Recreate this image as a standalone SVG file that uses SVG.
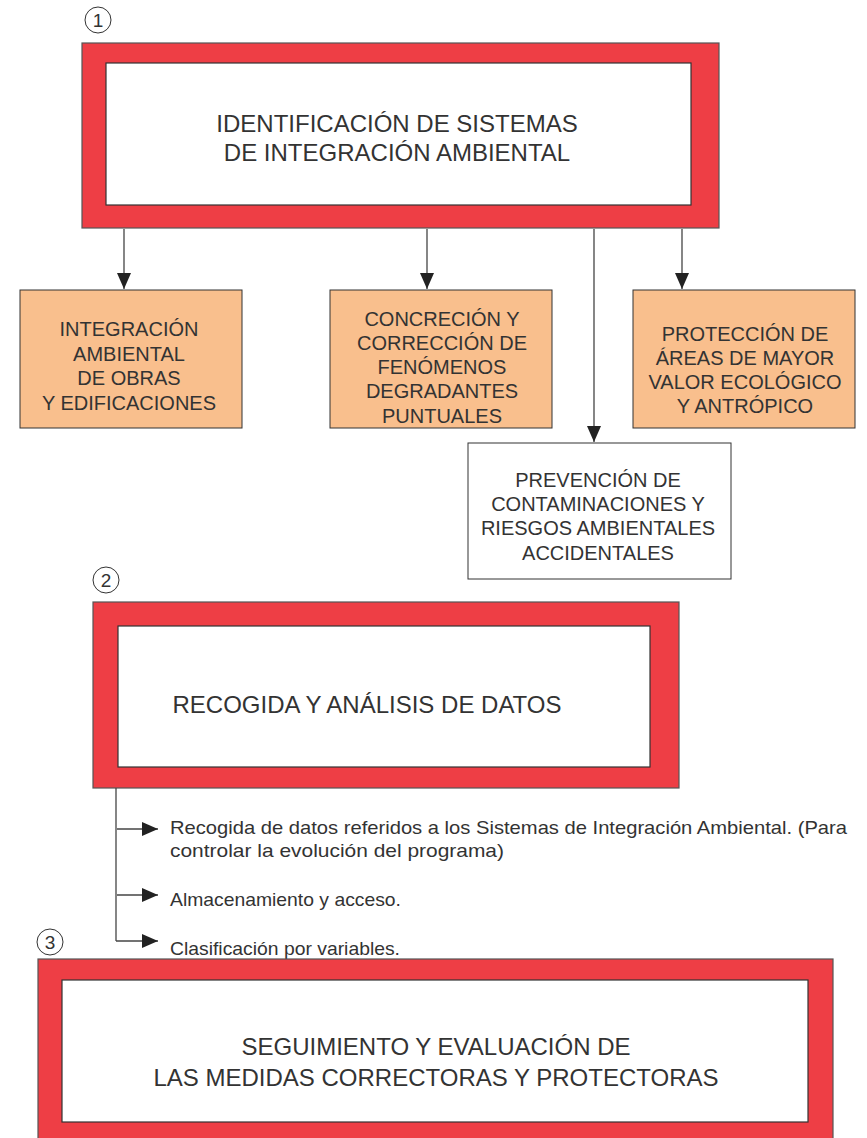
<svg xmlns="http://www.w3.org/2000/svg" width="867" height="1138" viewBox="0 0 867 1138">
<style>
.frame{fill:#EE3E45;stroke:#555;stroke-width:1.2}
.inner{fill:#fff;stroke:#333;stroke-width:1.2}
.box{fill:#F9BF8D;stroke:#333;stroke-width:1}
.wbox{fill:#fff;stroke:#333;stroke-width:1}
text{font-family:"Liberation Sans",Arial,sans-serif;fill:#333}
.t1{font-size:24px;text-anchor:middle}
.t2{font-size:20px;text-anchor:middle}
.t3{font-size:19px}
.num{font-size:19px;text-anchor:middle}
.ln{stroke:#444;stroke-width:1.3;fill:none}
.circ{fill:#fff;stroke:#333;stroke-width:1}
</style>
<defs>
<marker id="ah" viewBox="0 0 16 14" refX="16" refY="7" markerWidth="16" markerHeight="14" markerUnits="userSpaceOnUse" orient="auto">
<path d="M0,0 L16,7 L0,14 Z" fill="#222"/>
</marker>
</defs>
<rect width="867" height="1138" fill="#fff"/>
<g id="n1">
<circle class="circ" cx="98" cy="20" r="13"/>
<text class="num" x="98" y="27">1</text>
<rect class="frame" x="82" y="43" width="637" height="185"/>
<rect class="inner" x="106" y="63" width="585" height="142"/>
<text class="t1" x="397" y="132">IDENTIFICACIÓN DE SISTEMAS</text>
<text class="t1" x="397" y="161">DE INTEGRACIÓN AMBIENTAL</text>
</g>
<g id="n1a">
<rect class="box" x="20" y="290" width="222" height="138"/>
<text class="t2" x="129" y="336">INTEGRACIÓN</text>
<text class="t2" x="129" y="361">AMBIENTAL</text>
<text class="t2" x="129" y="385">DE OBRAS</text>
<text class="t2" x="129" y="410">Y EDIFICACIONES</text>
</g>
<g id="n1b">
<rect class="box" x="330" y="290" width="222" height="138"/>
<text class="t2" x="442" y="326">CONCRECIÓN Y</text>
<text class="t2" x="442" y="350">CORRECCIÓN DE</text>
<text class="t2" x="442" y="374">FENÓMENOS</text>
<text class="t2" x="442" y="398">DEGRADANTES</text>
<text class="t2" x="442" y="423">PUNTUALES</text>
</g>
<g id="n1c">
<rect class="box" x="633" y="290" width="222" height="138"/>
<text class="t2" x="745" y="341">PROTECCIÓN DE</text>
<text class="t2" x="745" y="365">ÁREAS DE MAYOR</text>
<text class="t2" x="745" y="389">VALOR ECOLÓGICO</text>
<text class="t2" x="745" y="413">Y ANTRÓPICO</text>
</g>
<g id="n1d">
<rect class="wbox" x="468" y="443" width="263" height="136"/>
<text class="t2" x="598" y="487">PREVENCIÓN DE</text>
<text class="t2" x="598" y="511">CONTAMINACIONES Y</text>
<text class="t2" x="598" y="535">RIESGOS AMBIENTALES</text>
<text class="t2" x="598" y="560">ACCIDENTALES</text>
</g>
<g id="n2">
<circle class="circ" cx="106" cy="580" r="13"/>
<text class="num" x="106" y="587">2</text>
<rect class="frame" x="93" y="602" width="586" height="186"/>
<rect class="inner" x="118" y="626" width="532" height="141"/>
<text class="t1" x="367" y="713">RECOGIDA Y ANÁLISIS DE DATOS</text>
</g>
<g id="list">
<text class="t3" x="170" y="834" textLength="677" lengthAdjust="spacingAndGlyphs">Recogida de datos referidos a los Sistemas de Integración Ambiental. (Para</text>
<text class="t3" x="170" y="857" textLength="334" lengthAdjust="spacingAndGlyphs">controlar la evolución del programa)</text>
<text class="t3" x="170" y="906" textLength="231" lengthAdjust="spacingAndGlyphs">Almacenamiento y acceso.</text>
<text class="t3" x="170" y="955" textLength="230" lengthAdjust="spacingAndGlyphs">Clasificación por variables.</text>
</g>
<g id="n3">
<circle class="circ" cx="50" cy="942" r="13"/>
<text class="num" x="50" y="949">3</text>
<rect class="frame" x="38" y="959" width="795" height="190"/>
<rect class="inner" x="62" y="980" width="746" height="142"/>
<text class="t1" x="436" y="1055">SEGUIMIENTO Y EVALUACIÓN DE</text>
<text class="t1" x="436" y="1086">LAS MEDIDAS CORRECTORAS Y PROTECTORAS</text>
</g>
<g id="connectors">
<line class="ln" x1="124" y1="229" x2="124" y2="289" marker-end="url(#ah)"/>
<line class="ln" x1="427" y1="229" x2="427" y2="289" marker-end="url(#ah)"/>
<line class="ln" x1="682" y1="229" x2="682" y2="289" marker-end="url(#ah)"/>
<line class="ln" x1="594" y1="229" x2="594" y2="442" marker-end="url(#ah)"/>
<line class="ln" x1="116" y1="788" x2="116" y2="941"/>
<line class="ln" x1="117" y1="829" x2="158" y2="829" marker-end="url(#ah)"/>
<line class="ln" x1="117" y1="895" x2="158" y2="895" marker-end="url(#ah)"/>
<line class="ln" x1="116" y1="941" x2="158" y2="941" marker-end="url(#ah)"/>
</g>
</svg>
